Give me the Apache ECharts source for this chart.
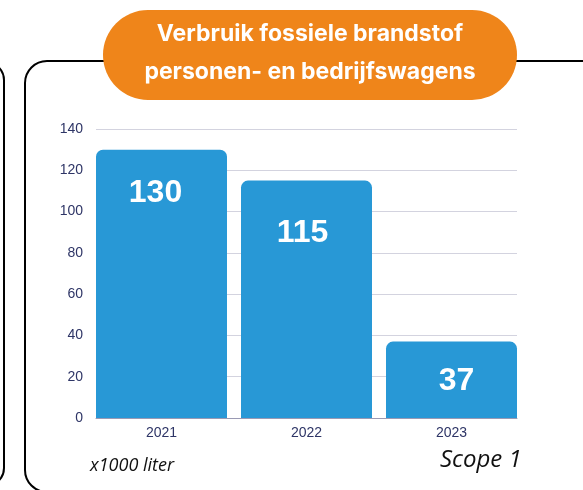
<!DOCTYPE html>
<html>
<head>
<meta charset="utf-8">
<script src="https://cdn.jsdelivr.net/npm/echarts@6/dist/echarts.min.js"></script>
<style>
html,body{margin:0;padding:0;background:#fff;}
#c{width:583px;height:490px;}
</style>
</head>
<body>
<div id="c"></div>
<script>
// Data
const categories = ['2021', '2022', '2023'];
const values = [130, 115, 37];
const yMin = 0, yMax = 140, yStep = 20;
const titleLines = ['Verbruik fossiele brandstof', 'personen- en bedrijfswagens'];
const unitText = 'x1000 liter';
const scopeText = 'Scope 1';

// Styles (label nudges per bar)
const labelOffsets = [[-6, 28], [-4, 37], [5, 24]];

const chart = echarts.init(document.getElementById('c'), null, {renderer: 'canvas'});
const axisColor = '#2e3566';
const option = {
  animation: false,
  grid: [
    {left: 89, right: 59, top: 129, bottom: 72},
    {left: 96, right: 66, top: 129, bottom: 72}
  ],
  xAxis: [
    {type: 'category', data: categories, gridIndex: 0,
     axisLine: {show: false}, axisTick: {show: false},
     axisLabel: {color: axisColor, fontSize: 14, margin: 8, fontFamily: 'Liberation Sans'}},
    {type: 'category', data: categories, gridIndex: 1,
     axisLine: {show: true, lineStyle: {color: '#9a9ab4', width: 1}}, axisTick: {show: false},
     axisLabel: {show: false}}
  ],
  yAxis: [
    {type: 'value', gridIndex: 0, min: yMin, max: yMax, interval: yStep, show: false},
    {type: 'value', gridIndex: 1, min: yMin, max: yMax, interval: yStep,
     axisLine: {show: false}, axisTick: {show: false},
     axisLabel: {color: axisColor, fontSize: 14, margin: 13, fontFamily: 'Liberation Sans'},
     splitLine: {lineStyle: {color: '#d3d3df', width: 1}}}
  ],
  series: [{
    type: 'bar', xAxisIndex: 0, yAxisIndex: 0,
    data: values.map((v, i) => ({value: v, label: {offset: labelOffsets[i]}})),
    barWidth: 131,
    itemStyle: {color: '#2898d6', borderRadius: [7, 7, 0, 0]},
    label: {show: true, position: 'insideTop', distance: 0, color: '#fff',
            fontSize: 32, fontWeight: 'bold', fontFamily: 'Liberation Sans'}
  }],
  graphic: [
    {type: 'rect', z: 0, shape: {x: -100, y: 62, width: 104, height: 424, r: 18},
     style: {fill: 'none', stroke: '#000', lineWidth: 2}},
    {type: 'rect', z: 0, shape: {x: 25, y: 61, width: 580, height: 431, r: 22},
     style: {fill: 'none', stroke: '#000', lineWidth: 2}},
    {type: 'rect', z: 1, shape: {x: 103, y: 10, width: 414, height: 90, r: 45},
     style: {fill: '#ef851a'}},
    {type: 'text', z: 2, x: 310, y: 34,
     style: {text: titleLines[0], fill: '#fff', font: '700 23px Inter', align: 'center', verticalAlign: 'middle'}},
    {type: 'text', z: 2, x: 310, y: 72,
     style: {text: titleLines[1], fill: '#fff', font: '700 23px Inter', align: 'center', verticalAlign: 'middle'}},
    {type: 'text', z: 2, x: 90, y: 466,
     style: {text: unitText, fill: '#111', font: 'italic 18px "Open Sans"', align: 'left', verticalAlign: 'middle'}},
    {type: 'text', z: 2, x: 440, y: 460,
     style: {text: scopeText, fill: '#111', font: 'italic 24px "Open Sans"', align: 'left', verticalAlign: 'middle'}}
  ]
};
chart.setOption(option);
</script>
</body>
</html>
